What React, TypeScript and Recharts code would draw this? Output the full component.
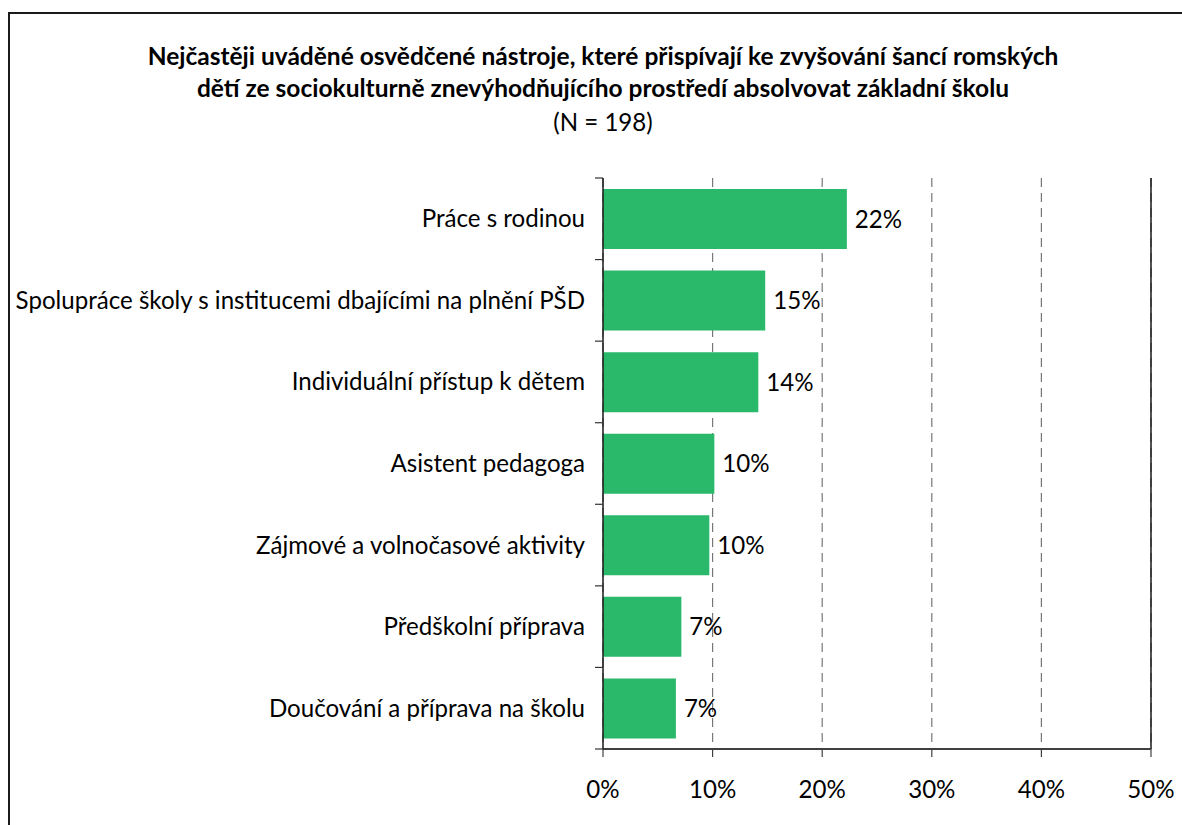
import React from 'react';
import { BarChart, Bar, XAxis, YAxis, CartesianGrid, LabelList, ReferenceLine } from 'recharts';

const titleLines = [
  'Nejčastěji uváděné osvědčené nástroje, které přispívají ke zvyšování šancí romských',
  'dětí ze sociokulturně znevýhodňujícího prostředí absolvovat základní školu',
];
const subtitle = '(N = 198)';

const categories = [
  'Práce s rodinou',
  'Spolupráce školy s institucemi dbajícími na plnění PŠD',
  'Individuální přístup k dětem',
  'Asistent pedagoga',
  'Zájmové a volnočasové aktivity',
  'Předškolní příprava',
  'Doučování a příprava na školu',
];
const values = [0.2225, 0.148, 0.1417, 0.1016, 0.097, 0.0715, 0.0665];
const xTicks = [0, 0.1, 0.2, 0.3, 0.4, 0.5];

const data = categories.map((name, i) => ({ name, value: values[i] }));

const FONT = 'Lato, "Open Sans", sans-serif';
const FS = 24.1;
const CHART_W = 1182;
const CHART_H = 825;
const MARGIN = { top: 178, right: 31, bottom: 16, left: 0 };
const X_AXIS_H = 60;
const Y_AXIS_W = 603;
const Y_TICK_SIZE = 8;
const Y_TICK_MARGIN = 10;
const PLOT_H = CHART_H - MARGIN.top - MARGIN.bottom - X_AXIS_H;
const BAND = PLOT_H / categories.length;

const pct = (v: number) => `${Math.round(v * 100)}%`;

const YTick = (props: any) => {
  const { x, y, payload, index } = props;
  const axisX = x + Y_TICK_SIZE + Y_TICK_MARGIN;
  return (
    <g>
      <line x1={axisX - 8} x2={axisX} y1={y - BAND / 2} y2={y - BAND / 2} stroke="#333" strokeWidth={1.2} />
      {index === categories.length - 1 && (
        <line x1={axisX - 8} x2={axisX} y1={y + BAND / 2} y2={y + BAND / 2} stroke="#333" strokeWidth={1.2} />
      )}
      <text x={x} y={y} dy="0.35em" textAnchor="end" fill="#000" fontSize={FS} fontFamily={FONT}>
        {payload.value}
      </text>
    </g>
  );
};

export default function App() {
  return (
    <div style={{ position: 'fixed', left: 0, top: 0, width: 1182, height: 825, overflow: 'hidden', background: '#fff' }}>
      <div
        style={{
          position: 'absolute',
          left: 8,
          top: 12,
          width: 2000,
          height: 2000,
          borderLeft: '2px solid #1a1a1a',
          borderTop: '2px solid #1a1a1a',
        }}
      />
      <div
        style={{
          position: 'absolute',
          left: 0,
          top: 40,
          width: 1206,
          textAlign: 'center',
          fontFamily: FONT,
          color: '#000',
        }}
      >
        {titleLines.map((t) => (
          <div key={t} style={{ fontWeight: 700, fontSize: 24.5, lineHeight: '32px' }}>
            {t}
          </div>
        ))}
        <div style={{ fontSize: FS, lineHeight: '36px' }}>{subtitle}</div>
      </div>
      <div style={{ position: 'absolute', left: 0, top: 0 }}>
        <BarChart
          width={CHART_W}
          height={CHART_H}
          data={data}
          layout="vertical"
          margin={MARGIN}
          barSize={60}
        >
          <CartesianGrid horizontal={false} vertical={true} stroke="#777" strokeDasharray="9 6" strokeWidth={1.2} />
          <XAxis
            type="number"
            domain={[0, 0.5]}
            ticks={xTicks}
            tickFormatter={pct}
            height={X_AXIS_H}
            tickSize={8}
            tickMargin={24}
            axisLine={{ stroke: '#404040', strokeWidth: 2 }}
            tickLine={{ stroke: '#404040', strokeWidth: 1.2 }}
            tick={{ fill: '#000', fontSize: FS, fontFamily: FONT }}
          />
          <XAxis
            xAxisId="top"
            orientation="top"
            type="number"
            domain={[0, 0.5]}
            ticks={xTicks}
            height={0}
            tick={false}
            tickLine={false}
            axisLine={{ stroke: '#808080', strokeWidth: 2 }}
          />
          <YAxis
            type="category"
            dataKey="name"
            width={Y_AXIS_W}
            tickSize={Y_TICK_SIZE}
            tickMargin={Y_TICK_MARGIN}
            tickLine={false}
            axisLine={{ stroke: '#1a1a1a', strokeWidth: 1.5 }}
            tick={<YTick />}
            interval={0}
          />
          <ReferenceLine x={0.5} stroke="#1a1a1a" strokeWidth={1.5} />
          <Bar dataKey="value" fill="#2ab86a" isAnimationActive={false}>
            <LabelList
              dataKey="value"
              position="right"
              offset={8}
              formatter={(v: any) => pct(Number(v))}
              style={{ fill: '#000', fontSize: FS, fontFamily: FONT }}
            />
          </Bar>
        </BarChart>
      </div>
    </div>
  );
}
